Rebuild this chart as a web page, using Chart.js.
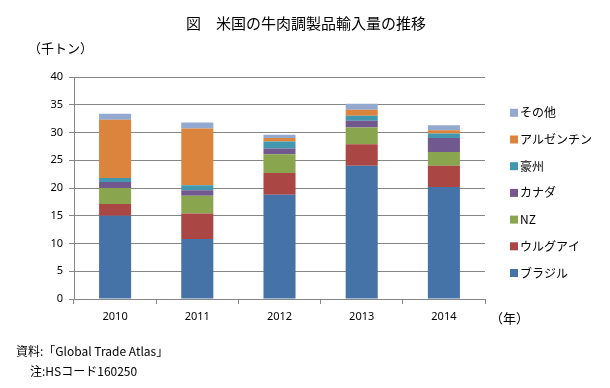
<!DOCTYPE html>
<html>
<head>
<meta charset="utf-8">
<script src="https://cdn.jsdelivr.net/npm/chart.js@4/dist/chart.umd.min.js"></script>
<style>
  body { margin: 0; background: #fff; }
  #wrap { position: relative; width: 610px; height: 388px; font-family: "Noto Sans CJK JP", sans-serif; color: #000; }
  .txt { position: absolute; white-space: nowrap; }
</style>
</head>
<body>
<div id="wrap">
  <canvas id="beefChart" width="610" height="388"></canvas>
  <div class="txt" style="left:0;width:612px;top:12px;text-align:center;font-size:15px;">図　米国の牛肉調製品輸入量の推移</div>
  <div class="txt" style="left:28px;top:38px;font-size:13px;">（千トン）</div>
  <div class="txt" style="left:490px;top:308px;font-size:13px;">（年）</div>
  <div class="txt" style="left:16px;top:342px;font-size:12px;">資料:「Global Trade Atlas」</div>
  <div class="txt" style="left:30px;top:362px;font-size:12px;">注:HSコード160250</div>
</div>
<script>
// 年
const years = ['2010', '2011', '2012', '2013', '2014'];

// 国別輸入量（千トン）
const brazil    = [15.0, 10.8, 18.8, 24.0, 20.2];
const uruguay   = [2.1, 4.6, 3.9, 3.9, 3.8];
const nz        = [2.9, 3.2, 3.4, 3.0, 2.5];
const canada    = [1.1, 1.0, 1.0, 1.2, 2.5];
const australia = [0.7, 0.9, 1.3, 0.9, 0.8];
const argentina = [10.5, 10.2, 0.6, 1.1, 0.6];
const others    = [1.1, 1.1, 0.6, 1.1, 0.9];

const yTicks = [0, 5, 10, 15, 20, 25, 30, 35, 40];

// 凡例（下から順に並べる）
const legendPlugin = {
    id: 'sideLegend',
    afterDraw(chart) {
        const ctx = chart.ctx;
        const ds = chart.data.datasets;
        ctx.save();
        ctx.font = '12px "Noto Sans CJK JP"';
        ctx.textBaseline = 'middle';
        for (let i = 0; i < ds.length; i++) {
            const y = 273 - i * 26.7;
            ctx.fillStyle = ds[i].backgroundColor;
            ctx.fillRect(510, y - 4, 8, 8);
            ctx.fillStyle = '#000';
            ctx.fillText(ds[i].label, 520, y);
        }
        ctx.restore();
    }
};

const ctx = document.getElementById('beefChart').getContext('2d');
new Chart(ctx, {
    type: 'bar',
    data: {
        labels: years,
        datasets: [
            { label: 'ブラジル', data: brazil, backgroundColor: '#4572A7' },
            { label: 'ウルグアイ', data: uruguay, backgroundColor: '#AA4643' },
            { label: 'NZ', data: nz, backgroundColor: '#89A54E' },
            { label: 'カナダ', data: canada, backgroundColor: '#71588F' },
            { label: '豪州', data: australia, backgroundColor: '#4198AF' },
            { label: 'アルゼンチン', data: argentina, backgroundColor: '#DB843D' },
            { label: 'その他', data: others, backgroundColor: '#93A9CF' }
        ]
    },
    options: {
        responsive: false,
        animation: false,
        layout: { padding: { left: 0, top: 77, right: 125, bottom: 59 } },
        datasets: { bar: { barPercentage: 0.39, categoryPercentage: 1.0 } },
        scales: {
            x: {
                stacked: true,
                grid: { offset: true, drawOnChartArea: false, color: '#868686', tickLength: 5 },
                border: { color: '#868686', width: 1 },
                ticks: { color: '#000', font: { family: 'Noto Sans', size: 11 }, padding: 6 },
                afterFit: s => { s.height = 30; }
            },
            y: {
                stacked: true,
                min: 0,
                max: 40,
                afterBuildTicks: s => { s.ticks = yTicks.map(v => ({ value: v })); },
                grid: { color: '#868686', lineWidth: 1, tickLength: 5 },
                border: { color: '#868686', width: 1 },
                ticks: { color: '#000', font: { family: 'Noto Sans', size: 11 }, padding: 6 },
                afterFit: s => { s.width = 74; }
            }
        },
        plugins: {
            legend: { display: false },
            tooltip: { enabled: false }
        }
    },
    plugins: [legendPlugin]
});
</script>
</body>
</html>
